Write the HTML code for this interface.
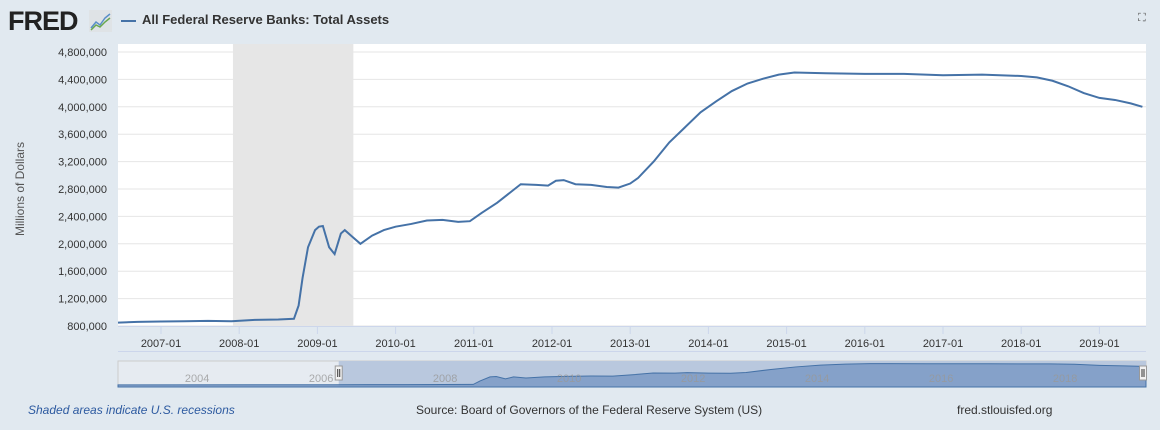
<!DOCTYPE html>
<html><head><meta charset="utf-8">
<style>
body{margin:0;width:1160px;height:430px;background:#e1e9f0;font-family:"Liberation Sans",Arial,sans-serif;overflow:hidden;position:relative}
.t{position:absolute;white-space:nowrap}
</style></head>
<body>
<div class="t" style="left:8px;top:6px;font-size:27px;font-weight:bold;color:#222;letter-spacing:-1px">FRED</div>
<svg class="t" style="left:89px;top:10px" width="23" height="22"><rect width="23" height="22" fill="#dfe3e6"/><polyline points="2,18 7,12 11,15 16,8 21,4" fill="none" stroke="#5a8fc8" stroke-width="1.5"/><polyline points="2,20 7,15 11,17 16,12 21,8" fill="none" stroke="#6aa84f" stroke-width="1.5"/></svg>
<div class="t" style="left:121px;top:20px;width:15px;height:2px;background:#4572a7"></div>
<div class="t" style="left:142px;top:12px;font-size:13px;font-weight:bold;color:#333">All Federal Reserve Banks: Total Assets</div>
<div class="t" style="left:1138px;top:12px;font-size:11px;color:#555">⛶</div>
<svg id="c" class="t" style="left:0;top:0" width="1160" height="430"></svg>
<div class="t" style="left:-30px;top:182px;width:100px;text-align:center;transform:rotate(-90deg);font-size:12px;color:#555">Millions of Dollars</div>
<div class="t" style="left:28px;top:403px;font-size:12px;font-style:italic;color:#2d5aa0">Shaded areas indicate U.S. recessions</div>
<div class="t" style="left:416px;top:403px;font-size:12px;color:#333">Source: Board of Governors of the Federal Reserve System (US)</div>
<div class="t" style="left:957px;top:403px;font-size:12px;color:#333">fred.stlouisfed.org</div>
<script>
const years=[2006.45,2006.7,2007.0,2007.3,2007.6,2007.9,2008.2,2008.5,2008.7,2008.76,2008.81,2008.88,2008.97,2009.02,2009.07,2009.15,2009.22,2009.3,2009.35,2009.45,2009.55,2009.7,2009.85,2010.0,2010.2,2010.4,2010.6,2010.8,2010.95,2011.1,2011.3,2011.5,2011.6,2011.8,2011.95,2012.05,2012.15,2012.3,2012.5,2012.7,2012.85,2013.0,2013.1,2013.3,2013.5,2013.7,2013.9,2014.1,2014.3,2014.5,2014.7,2014.9,2015.1,2015.5,2016.0,2016.5,2017.0,2017.5,2018.0,2018.2,2018.4,2018.6,2018.8,2019.0,2019.2,2019.4,2019.55];
const assets=[850,860,865,870,875,870,890,895,905,1100,1500,1950,2200,2250,2260,1950,1850,2150,2200,2100,2000,2120,2200,2250,2290,2340,2350,2320,2330,2450,2600,2780,2870,2860,2850,2920,2930,2870,2860,2830,2820,2880,2960,3200,3480,3700,3920,4080,4230,4340,4410,4470,4500,4490,4480,4480,4460,4470,4450,4430,4380,4300,4200,4130,4100,4050,4000];
const yTicks=[800000,1200000,1600000,2000000,2400000,2800000,3200000,3600000,4000000,4400000,4800000];
const xTicks=[2007,2008,2009,2010,2011,2012,2013,2014,2015,2016,2017,2018,2019];
const navTicks=[2004,2006,2008,2010,2012,2014,2016,2018];
const recession=[2007.92,2009.46];
const navStart=2006.53;
const L=118,R=1146,T=52,B=326;
const X=y=>161+(y-2007)*78.2;
const Y=v=>B-(v*1000-800000)/4000000*(B-T);
const NX=y=>Math.min(R,118+(y-2002.97)*62);
const NT=361,NB=387;
const NY=v=>NB-2-(v-800)/3800*(NB-NT-4);
const s=document.getElementById('c');const ns='http://www.w3.org/2000/svg';
function el(t,a,p){const e=document.createElementNS(ns,t);for(const k in a)e.setAttribute(k,a[k]);(p||s).appendChild(e);return e;}
let e=el('rect',{x:L,y:T-8,width:R-L,height:B-T+8,fill:'#fff'});


e=el('rect',{x:X(recession[0]),y:T-8,width:X(recession[1])-X(recession[0]),height:B-T+8,fill:'#e6e6e6'});


yTicks.forEach(v=>{
 e=el('line',{x1:L,x2:R,y1:Y(v/1000),y2:Y(v/1000),stroke:'#e6e6e6'});
 
 
 e=el('text',{x:L-11,y:Y(v/1000)+4,'text-anchor':'end','font-size':11,fill:'#333'});
 e.textContent=v.toLocaleString('en-US');
 
 
});
el('line',{x1:L,x2:R,y1:B+0.5,y2:B+0.5,stroke:'#ccd6eb'});
xTicks.forEach(y=>{
 e=el('line',{x1:X(y),x2:X(y),y1:B,y2:B+8,stroke:'#ccd6eb'});
 
 
 e=el('text',{x:X(y),y:B+21,'text-anchor':'middle','font-size':11,fill:'#333'});
 e.textContent=y+'-01';
 
 
});
el('line',{x1:L,x2:R,y1:351.5,y2:351.5,stroke:'#ccd6eb'});
e=el('polyline',{points:years.map((y,i)=>X(y)+','+Y(assets[i])).join(' '),fill:'none',stroke:'#4572a7','stroke-width':2});


// navigator
e=el('rect',{x:L,y:NT,width:R-L,height:NB-NT,fill:'#e6ebf1',stroke:'#ccc'});


e=el('rect',{x:NX(navStart),y:NT,width:R-NX(navStart),height:NB-NT,fill:'#b9c8de'});


const navYears=[2002.97].concat(years.filter((y,i)=>i%2==0)).concat([2019.55]);
const navVals=[820].concat(assets.filter((v,i)=>i%2==0)).concat([4000]);
let d='M'+L+','+NB+' '+navYears.map((y,i)=>NX(y)+','+NY(navVals[i])).join(' ')+' '+R+','+NB+'Z';
e=el('path',{d:d,fill:'#7f9cc6',stroke:'#4572a7','stroke-width':1,'fill-opacity':0.9});


navTicks.forEach(y=>{
 e=el('text',{x:NX(y)+3,y:382,'font-size':11,fill:'#999','fill-opacity':0.8});
 e.textContent=y;
 
 
});
[NX(navStart),R-3].forEach(x=>{
 e=el('rect',{x:x-3.5,y:366,width:7,height:14,fill:'#f2f2f2',stroke:'#999'});
 
 
 el('line',{x1:x-1,x2:x-1,y1:369,y2:377,stroke:'#333'});
 el('line',{x1:x+1,x2:x+1,y1:369,y2:377,stroke:'#333'});
});
</script>
</body></html>
